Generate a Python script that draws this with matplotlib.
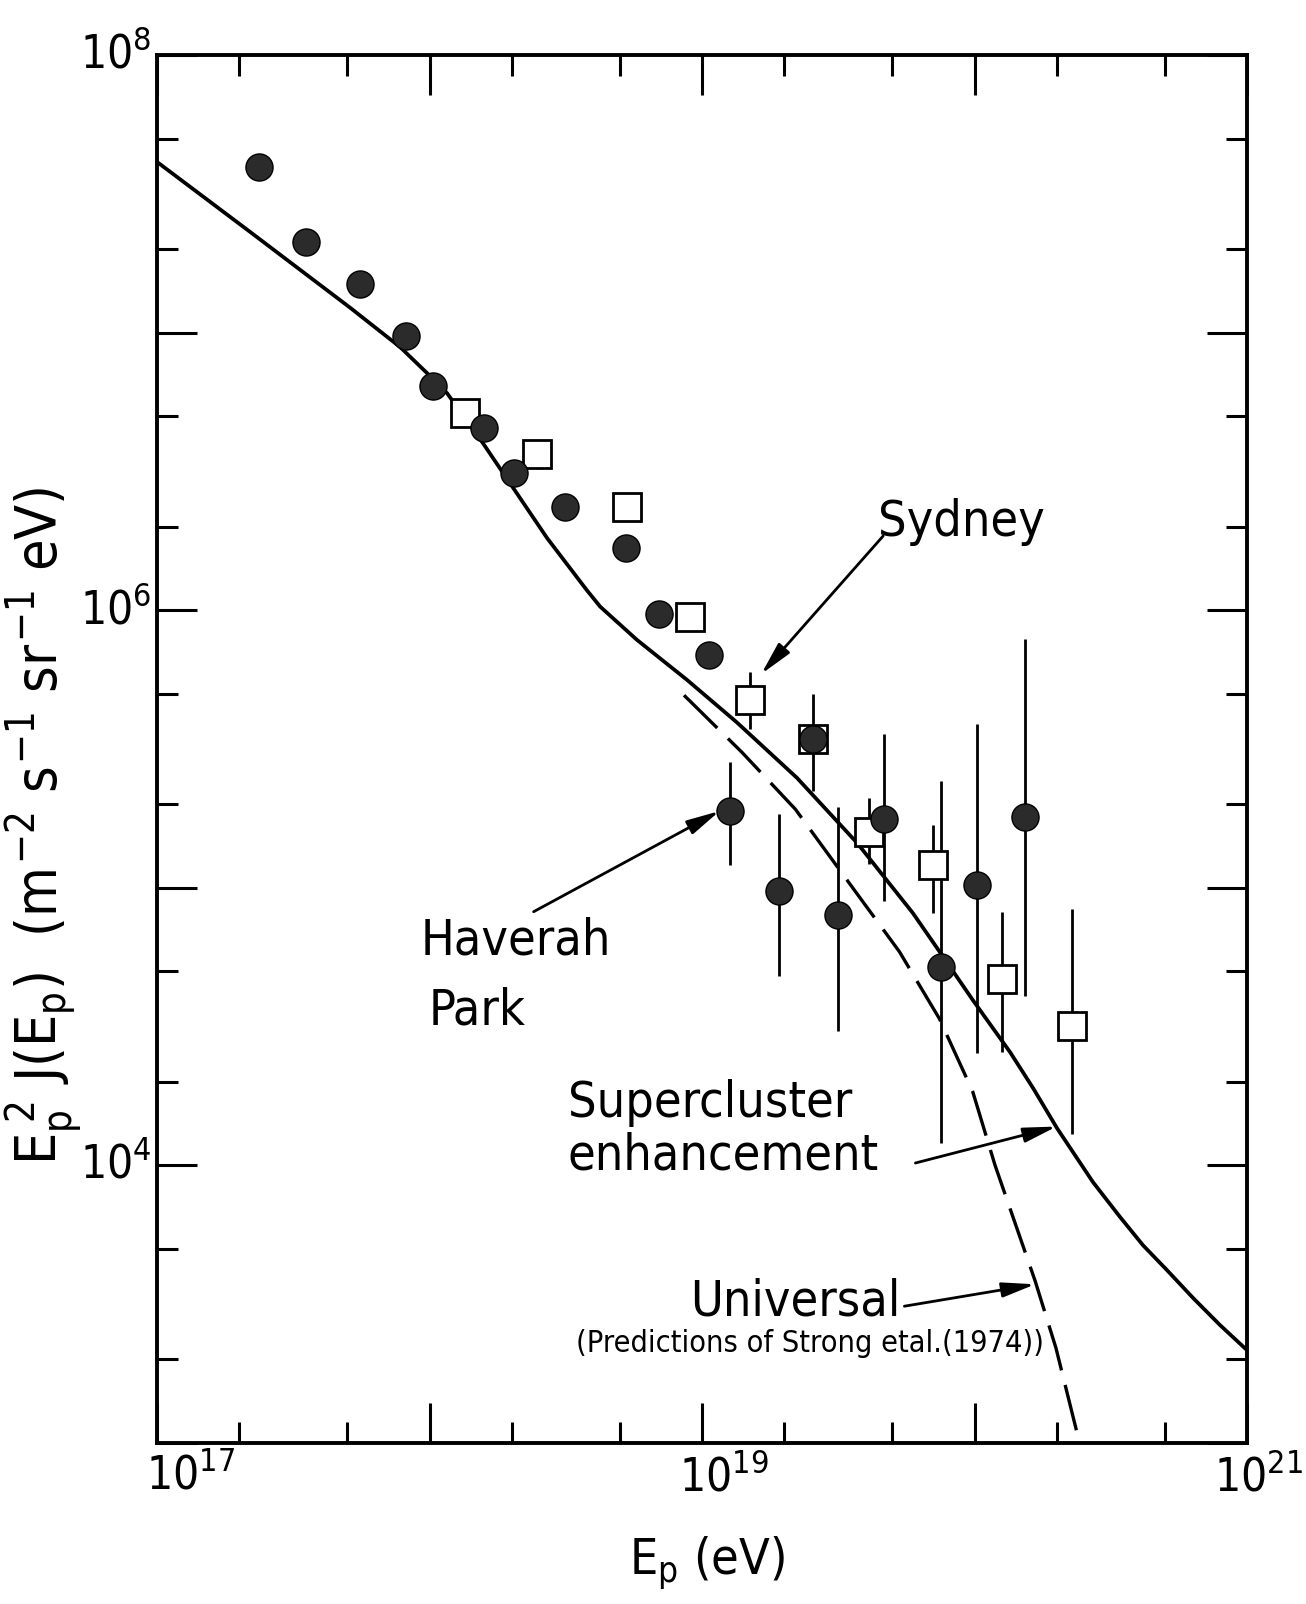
import matplotlib
matplotlib.use("Agg")
import matplotlib.pyplot as plt
import matplotlib.transforms as mtrans
from matplotlib import font_manager
from matplotlib.ticker import LogLocator, FuncFormatter, NullFormatter
import numpy as np

# Haverah Park (filled circles)
hp_E = [2.37e17, 3.53e17, 5.57e17, 8.2e17, 1.03e18, 1.59e18, 2.05e18, 3.14e18,
        5.26e18, 6.95e18, 1.06e19, 1.27e19, 1.92e19, 2.56e19, 3.16e19, 4.67e19,
        7.56e19, 1.02e20, 1.53e20]
hp_J = [3.95e7, 2.12e7, 1.50e7, 9.76e6, 6.4e6, 4.52e6, 3.13e6, 2.35e6,
        1.67e6, 9.7e5, 6.9e5, 1.89e5, 9.75e4, 3.44e5, 8.0e4, 1.77e5,
        5.2e4, 1.02e5, 1.80e5]
hp_err_E = [1.27e19, 1.92e19, 3.16e19, 4.67e19, 7.56e19, 1.02e20, 1.53e20]
hp_err_lo = [1.21e5, 4.82e4, 3.06e4, 8.98e4, 1.2e4, 2.53e4, 4.06e4]
hp_err_hi = [2.84e5, 1.85e5, 1.95e5, 3.58e5, 2.43e5, 3.89e5, 7.9e5]

# Sydney (open squares)
sy_E = [1.35e18, 2.47e18, 5.3e18, 9.04e18, 1.5e19, 2.56e19, 4.11e19, 7.07e19, 1.26e20, 2.28e20]
sy_J = [5.15e6, 3.64e6, 2.35e6, 9.44e5, 4.74e5, 3.44e5, 1.59e5, 1.21e5, 4.71e4, 3.19e4]
sy_err_E = [1.5e19, 2.56e19, 4.11e19, 7.07e19, 1.26e20, 2.28e20]
sy_err_lo = [3.73e5, 2.23e5, 1.22e5, 8.1e4, 2.57e4, 1.3e4]
sy_err_hi = [5.98e5, 4.99e5, 2.11e5, 1.69e5, 8.2e4, 8.4e4]

# supercluster enhancement (solid)
sc_E = [1e17, 2.19e17, 5.11e17, 7.80e17, 9.79e17, 1.16e18, 1.57e18, 2.09e18, 2.70e18,
        3.78e18, 4.23e18, 5.77e18, 8.81e18, 1.34e19, 2.23e19, 3.71e19, 5.94e19,
        7.46e19, 9.86e19, 1.35e20, 1.64e20, 2.01e20, 2.72e20, 3.42e20, 4.15e20,
        5.08e20, 6.34e20, 7.96e20, 1e21]
sc_J = [4.12e7, 2.31e7, 1.23e7, 8.87e6, 7.15e6, 6.05e6, 4.00e6, 2.64e6, 1.82e6,
        1.18e6, 1.03e6, 7.82e5, 5.61e5, 3.95e5, 2.49e5, 1.45e5, 8.11e4,
        5.87e4, 3.94e4, 2.56e4, 1.90e4, 1.36e4, 8.71e3, 6.52e3, 5.16e3,
        4.20e3, 3.33e3, 2.66e3, 2.16e3]

# universal (dashed)
un_E = [8.59e18, 1.40e19, 2.20e19, 3.66e19, 5.30e19, 7.43e19, 9.84e19, 1.19e20, 1.67e20, 1.99e20, 2.43e20]
un_J = [4.94e5, 3.08e5, 1.92e5, 9.68e4, 5.89e4, 3.38e4, 1.85e4, 1.0e4, 3.83e3, 2.2e3, 1.0e3]

# pick a narrow face if one is installed, else plain DejaVu Sans
FONT, STRETCH = 'DejaVu Sans', 'normal'
narrow = {f.name: f.stretch for f in font_manager.fontManager.ttflist
          if f.stretch in ('condensed', 'semi-condensed') and f.style == 'normal'}
for name in ['Liberation Sans Narrow', 'DejaVu Sans', 'Roboto', 'Open Sans', 'Noto Sans', 'Lato']:
    if name in narrow:
        FONT, STRETCH = name, narrow[name]
        break
math_font = FONT
if STRETCH != 'normal':
    try:
        font_manager.FontProperties(f'{FONT}:stretch={STRETCH}')
        math_font = f'{FONT}:stretch={STRETCH}'
    except Exception:
        pass
    SZ = dict(tick=33, lab=41, ann=36, small=22)
else:
    SZ = dict(tick=27, lab=38, ann=32, small=20)

plt.rcParams['font.family'] = FONT
plt.rcParams['font.stretch'] = STRETCH
plt.rcParams['mathtext.fontset'] = 'custom'
plt.rcParams['mathtext.rm'] = math_font
plt.rcParams['mathtext.it'] = math_font
plt.rcParams['mathtext.bf'] = math_font

fig = plt.figure(figsize=(13.06, 16.04), dpi=100)
ax = fig.add_axes([157/1306, 1 - 1443/1604, 1090/1306, 1388/1604])
ax.set_xscale('log')
ax.set_yscale('log')
ax.set_xlim(1e17, 1e21)
ax.set_ylim(1e3, 1e8)

ax.plot(sc_E, sc_J, color='black', lw=2.7, zorder=2)
ax.plot(un_E, un_J, color='black', lw=2.4, ls=(0, (14, 4.5)), zorder=2)
ax.vlines(hp_err_E, hp_err_lo, hp_err_hi, color='black', lw=2.0, zorder=2)
ax.vlines(sy_err_E, sy_err_lo, sy_err_hi, color='black', lw=2.0, zorder=2)
ax.plot(sy_E, sy_J, 's', ms=20, mfc='white', mec='black', mew=2.0, ls='none', zorder=3)
ax.plot(hp_E, hp_J, 'o', ms=19.5, mfc='#2b2b2b', mec='black', mew=1.0, ls='none', zorder=4)

# axes, ticks
for s in ax.spines.values():
    s.set_linewidth(2.8)
for axis in (ax.xaxis, ax.yaxis):
    axis.set_major_locator(LogLocator(base=10, numticks=12))
    axis.set_minor_locator(LogLocator(base=10, subs=(2, 5), numticks=12))
    axis.set_minor_formatter(NullFormatter())
ax.xaxis.set_major_formatter(FuncFormatter(
    lambda v, p: r'$10^{%d}$' % round(np.log10(v)) if round(np.log10(v)) % 2 == 1 else ''))
ax.yaxis.set_major_formatter(FuncFormatter(
    lambda v, p: r'$10^{%d}$' % round(np.log10(v)) if round(np.log10(v)) % 2 == 0 else ''))
ax.tick_params(which='both', direction='in', top=True, right=True, width=2.2, colors='black')
ax.tick_params(which='major', length=29, labelsize=SZ['tick'])
ax.tick_params(which='minor', length=15)
ax.tick_params(axis='x', pad=8)
ax.tick_params(axis='y', pad=4)

# hand-lettered labels sit a little right of their ticks
shift = {17: 0.34, 19: 0.22, 21: 0.12}
for loc, tick in zip(ax.xaxis.get_majorticklocs(), ax.xaxis.get_major_ticks()):
    e = int(round(np.log10(loc)))
    off = mtrans.ScaledTranslation(shift.get(e, 0.12), 0, fig.dpi_scale_trans)
    tick.label1.set_transform(tick.label1.get_transform() + off)
dy = mtrans.ScaledTranslation(0, -0.11 * SZ['tick'] / 28, fig.dpi_scale_trans)
for lbl in ax.get_yticklabels():
    lbl.set_verticalalignment('baseline')
    lbl.set_transform(lbl.get_transform() + dy)

fig.text(44/1306, 1 - 826/1604, r'$E_p^{\,2}\ J(E_p)\ \ (m^{-2}\ s^{-1}\ sr^{-1}\ eV)$',
         rotation=90, ha='center', va='center', fontsize=SZ['lab'])
fig.text(707/1306, 1 - 1563/1604, r'$E_p\ (eV)$', ha='center', va='center', fontsize=SZ['ann'])

# annotations
fs = SZ['ann']
arrow = dict(arrowstyle='-|>,head_length=2.0,head_width=0.45', color='black', lw=2.0,
             shrinkA=0, shrinkB=0)
ax.text(8.95e19, 1.85e6, 'Sydney', ha='center', va='baseline', fontsize=fs)
ax.annotate('', xy=(1.65e19, 5.89e5), xytext=(4.62e19, 1.85e6), arrowprops=arrow)

ax.text(9.27e17, 5.74e4, 'Haverah', ha='left', va='baseline', fontsize=fs)
ax.text(9.9e17, 3.21e4, 'Park', ha='left', va='baseline', fontsize=fs)
ax.annotate('', xy=(1.16e19, 1.89e5), xytext=(2.41e18, 8.2e4), arrowprops=arrow)

ax.text(3.21e18, 1.5e4, 'Supercluster', ha='left', va='baseline', fontsize=fs)
ax.text(3.21e18, 9.68e3, 'enhancement', ha='left', va='baseline', fontsize=fs)
ax.annotate('', xy=(2.0e20, 1.38e4), xytext=(6.07e19, 1.02e4), arrowprops=arrow)

ax.text(2.2e19, 2.88e3, 'Universal', ha='center', va='baseline', fontsize=fs)
ax.text(2.5e19, 2.29e3, '(Predictions of Strong etal.(1974))', ha='center', va='center',
        fontsize=SZ['small'])
ax.annotate('', xy=(1.67e20, 3.73e3), xytext=(5.53e19, 3.11e3), arrowprops=arrow)

fig.savefig('out.png', dpi=100, facecolor='white')
